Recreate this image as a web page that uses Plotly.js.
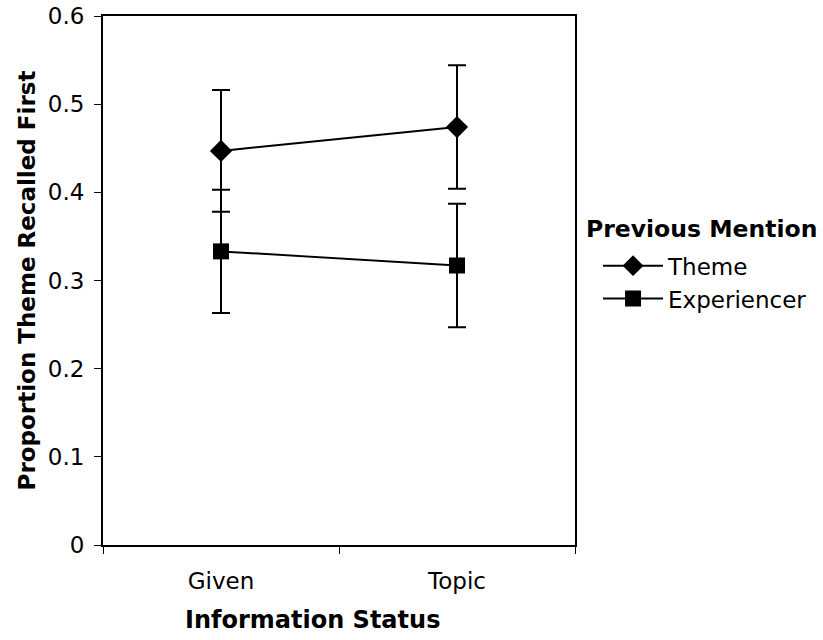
<!DOCTYPE html>
<html>
<head>
<meta charset="utf-8">
<script src="https://cdn.plot.ly/plotly-3.0.1.min.js"></script>
<style>html,body{margin:0;padding:0;background:#fff;}#chart{width:823px;height:640px;}</style>
</head>
<body>
<div id="chart"></div>
<script>
const categories = ["Given", "Topic"];
const themeValues = [0.447, 0.474];
const themeErrors = [0.069, 0.070];
const experiencerValues = [0.333, 0.317];
const experiencerErrors = [0.070, 0.070];
const yTickValues = [0, 0.1, 0.2, 0.3, 0.4, 0.5, 0.6];
const yTickLabels = ["0", "0.1", "0.2", "0.3", "0.4", "0.5", "0.6"];
const xTitle = "Information Status";
const yTitle = "Proportion Theme Recalled First";
const legendTitle = "Previous Mention";

const font = "DejaVu Sans, Verdana, sans-serif";

const traces = [
  {
    x: categories, y: themeValues, name: "Theme", type: "scatter", mode: "lines+markers",
    line: {color: "#000", width: 2},
    marker: {symbol: "diamond", size: 17, color: "#000"},
    error_y: {type: "data", array: themeErrors, visible: true, color: "#000", thickness: 2, width: 9}
  },
  {
    x: categories, y: experiencerValues, name: "Experiencer", type: "scatter", mode: "lines+markers",
    line: {color: "#000", width: 2},
    marker: {symbol: "square", size: 16, color: "#000"},
    error_y: {type: "data", array: experiencerErrors, visible: true, color: "#000", thickness: 2, width: 9}
  }
];

const layout = {
  width: 823, height: 640,
  margin: {l: 103, r: 247, t: 16, b: 95},
  paper_bgcolor: "#fff", plot_bgcolor: "#fff",
  font: {family: font, size: 23, color: "#000"},
  showlegend: true,
  legend: {
    x: 1.0466, xanchor: "left", y: 0.5685, yanchor: "top",
    font: {family: font, size: 23, color: "#000"},
    bgcolor: "rgba(0,0,0,0)", itemwidth: 60, tracegroupgap: 0
  },
  annotations: [
    {text: "<b>" + legendTitle + "</b>", xref: "paper", yref: "paper", x: 1.019, y: 0.5966,
     xanchor: "left", yanchor: "middle", showarrow: false, font: {family: font, size: 23.5, color: "#000"}},
    {text: "<b>" + xTitle + "</b>", xref: "paper", yref: "paper", x: 0.443, y: -0.142,
     xanchor: "center", yanchor: "middle", showarrow: false, font: {family: font, size: 24, color: "#000"}}
  ],
  xaxis: {
    type: "category", range: [-0.5, 1.5],
    showline: true, linecolor: "#000", linewidth: 2, mirror: true,
    ticks: "outside", tickson: "boundaries", ticklen: 7, tickcolor: "#000", tickwidth: 1,
    ticklabelstandoff: 14,
    showgrid: false, zeroline: false,
    tickfont: {family: font, size: 23, color: "#000"}
  },
  yaxis: {
    range: [0, 0.6], tickvals: yTickValues, ticktext: yTickLabels,
    showline: true, linecolor: "#000", linewidth: 2, mirror: true,
    ticks: "outside", ticklen: 7, tickcolor: "#000", tickwidth: 1,
    ticklabelstandoff: 5,
    showgrid: false, zeroline: false,
    tickfont: {family: font, size: 23, color: "#000"},
    title: {text: "<b>" + yTitle + "</b>", font: {family: font, size: 23, color: "#000"}, standoff: 6}
  }
};

Plotly.newPlot("chart", traces, layout, {displayModeBar: false, staticPlot: true});
</script>
</body>
</html>
